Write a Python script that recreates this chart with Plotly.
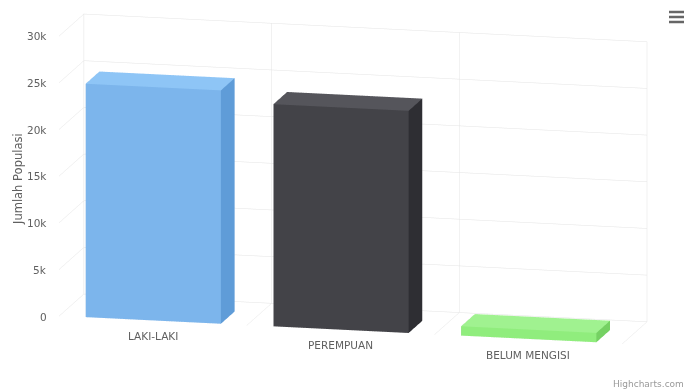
import plotly.graph_objects as go

categories = ["LAKI-LAKI", "PEREMPUAN", "BELUM MENGISI"]
values = [25000, 23800, 1000]
front_colors = ["#7cb5ec", "#434348", "#90ed7d"]
top_colors = ["#8ec5f6", "#55555b", "#a0f290"]
side_colors = ["#5f9cd8", "#2e2e33", "#75d163"]
y_tick_values = [0, 5000, 10000, 15000, 20000, 25000, 30000]
y_tick_labels = ["0", "5k", "10k", "15k", "20k", "25k", "30k"]
y_title = "Jumlah Populasi"

HALF_W = 0.36
D0, D1 = 0.02, 0.57
SCALE = 1.6

fig = go.Figure()

for i, (cat, v) in enumerate(zip(categories, values)):
    x0, x1 = i - HALF_W, i + HALF_W
    xs = [x0, x1, x1, x0, x0, x1, x1, x0]
    ys = [D0, D0, D1, D1, D0, D0, D1, D1]
    zs = [0, 0, 0, 0, v, v, v, v]
    tri = [
        (0, 1, 5), (0, 5, 4),   # front
        (3, 2, 6), (3, 6, 7),   # back
        (0, 3, 7), (0, 7, 4),   # left
        (1, 2, 6), (1, 6, 5),   # right
        (0, 1, 2), (0, 2, 3),   # bottom
        (4, 5, 6), (4, 6, 7),   # top
    ]
    fc = [front_colors[i]] * 2 + [side_colors[i]] * 6 + \
         [side_colors[i]] * 2 + [top_colors[i]] * 2
    fig.add_trace(go.Mesh3d(
        x=xs, y=ys, z=zs,
        i=[t[0] for t in tri], j=[t[1] for t in tri], k=[t[2] for t in tri],
        facecolor=fc, flatshading=True,
        lighting=dict(ambient=1, diffuse=0, specular=0, roughness=1, fresnel=0),
        hoverinfo="skip", showscale=False, name=cat,
    ))

annotations3d = []
for i, cat in enumerate(categories):
    annotations3d.append(dict(x=i, y=0, z=0, text=cat, showarrow=False,
                              yshift=-15, font=dict(size=10.5, color="#606060",
                                                    family="DejaVu Sans")))
for v, lab in zip(y_tick_values, y_tick_labels):
    annotations3d.append(dict(x=-0.5, y=0, z=v, text=lab, showarrow=False,
                              xanchor="right", xshift=-10,
                              font=dict(size=10.5, color="#606060",
                                        family="DejaVu Sans")))

grid = "#e4e4e4"
fig.update_layout(
    width=688, height=392,
    margin=dict(l=0, r=0, t=0, b=0),
    paper_bgcolor="white",
    showlegend=False,
    scene=dict(
        domain=dict(x=[0.026, 1], y=[0.086, 1]),
        xaxis=dict(range=[-0.5, 2.5], tickvals=[-0.5, 0.5, 1.5, 2.5],
                   showticklabels=False, ticks="", title=dict(text=""),
                   showgrid=True, gridcolor=grid, gridwidth=1,
                   zeroline=False, showline=False, showbackground=False,
                   showspikes=False),
        yaxis=dict(range=[0, 1], showticklabels=False, ticks="",
                   title=dict(text=""), showgrid=False, zeroline=False,
                   showline=False, showbackground=False, showspikes=False),
        zaxis=dict(range=[0, 30000], tickvals=y_tick_values,
                   showticklabels=False, ticks="", title=dict(text=""),
                   showgrid=True, gridcolor=grid, gridwidth=1,
                   zeroline=False, showline=False, showbackground=False,
                   showspikes=False),
        aspectmode="manual",
        aspectratio=dict(x=2.02 * SCALE, y=0.38 * SCALE, z=1.0 * SCALE),
        camera=dict(eye=dict(x=0.47, y=-2.0, z=0.44),
                    center=dict(x=0, y=0, z=0),
                    up=dict(x=0, y=0, z=1),
                    projection=dict(type="orthographic")),
        annotations=annotations3d,
        dragmode=False,
    ),
    annotations=[
        dict(x=18 / 688, y=1 - 179 / 392, xref="paper", yref="paper",
             text=y_title, showarrow=False, textangle=-90,
             xanchor="center", yanchor="middle",
             font=dict(size=11.5, color="#606060", family="DejaVu Sans")),
        dict(x=1, y=0, xref="paper", yref="paper", text="Highcharts.com",
             showarrow=False, xanchor="right", yanchor="bottom",
             xshift=-2, yshift=1,
             font=dict(size=9, color="#999999", family="DejaVu Sans")),
    ],
)

for yy in [12, 17, 22]:
    fig.add_shape(type="line", xref="paper", yref="paper",
                  x0=669 / 688, x1=684 / 688, y0=1 - yy / 392, y1=1 - yy / 392,
                  line=dict(color="#666666", width=2.5))

fig.write_html("out.html", config=dict(displayModeBar=False),
               post_script="document.body.style.margin='0px';")
